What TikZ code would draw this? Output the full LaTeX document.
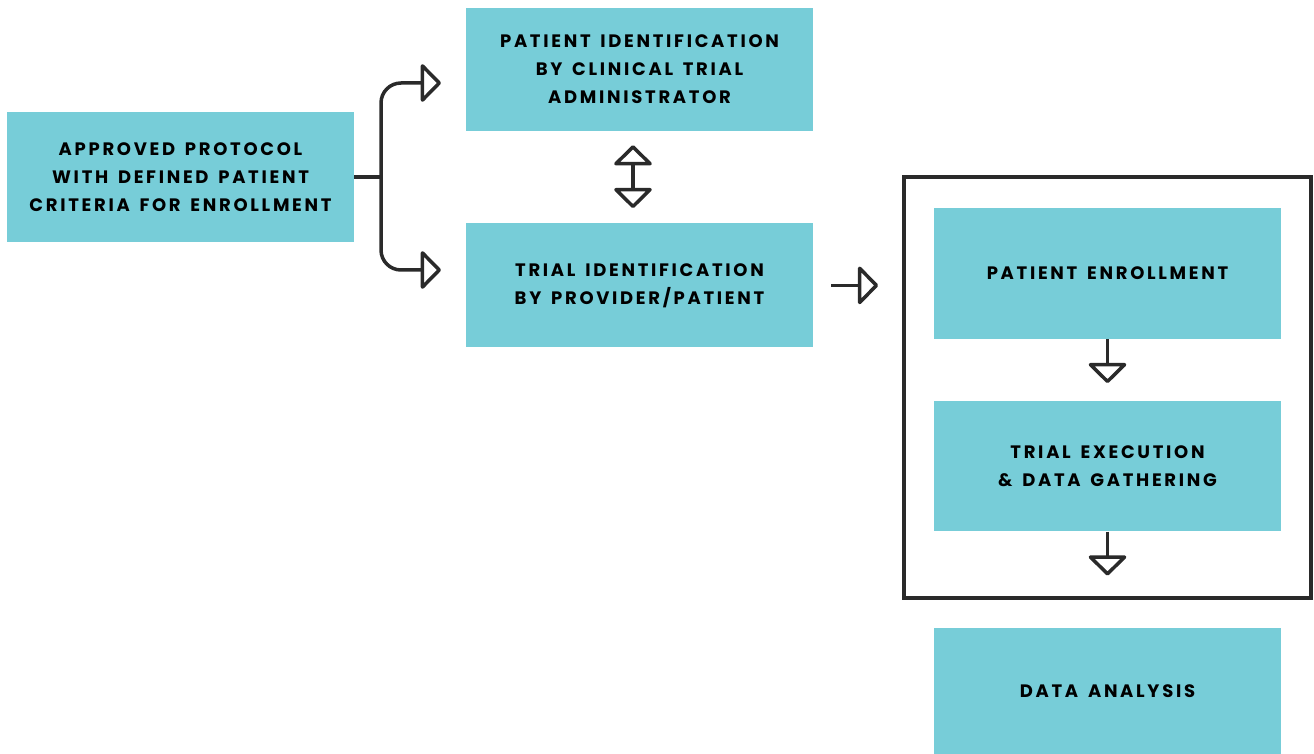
\documentclass[tikz,border=0pt]{standalone}
\usepackage{fontspec}
\newfontfamily\boxfont[LetterSpace=15,WordSpace=1.5]{Poppins}
\usetikzlibrary{positioning,arrows.meta}
\definecolor{boxcyan}{HTML}{77CDD8}
\definecolor{ink}{HTML}{2A2A2A}

\begin{document}
\begin{tikzpicture}[x=1pt,y=1pt,
    box/.style={fill=boxcyan,text=black,inner sep=0pt,minimum width=347pt,
      align=center,font=\boxfont\bfseries\fontsize{18}{28}\selectfont},
    link/.style={draw=ink,line width=3.5pt},
    opentip/.style={link,-{Triangle[open,length=21pt,width=42pt,round]}},
    twotip/.style={link,{Triangle[open,length=21pt,width=42pt,round]}-{Triangle[open,length=21pt,width=42pt,round]}}]
  \useasboundingbox (0,0) rectangle (1314,753);

  % left column and middle column
  \node[box,minimum height=130pt] (n_protocol) at (180.5,576)
    {APPROVED PROTOCOL\\WITH DEFINED PATIENT\\CRITERIA FOR ENROLLMENT};
  \node[box,minimum height=123pt] (n_admin) at (639.5,683.5)
    {PATIENT IDENTIFICATION\\BY CLINICAL TRIAL\\ADMINISTRATOR};
  \node[box,minimum height=124pt] (n_provider) [below = 92pt of n_admin]
    {TRIAL IDENTIFICATION\\BY PROVIDER/PATIENT};

  % the trial itself
  \draw[ink,line width=4pt] (904,155) rectangle (1311,576);
  \node[box,minimum height=131pt] (n_enroll) at (1107.5,479.5) {PATIENT ENROLLMENT};
  \node[box,minimum height=130pt] (n_exec) [below = 62pt of n_enroll]
    {TRIAL EXECUTION\\\& DATA GATHERING};
  \node[box,minimum height=126pt] (n_analysis) [below = 96pt of n_exec] {DATA ANALYSIS};

  \coordinate (split) at (381,576);
  \coordinate (to_admin) at (441,670);
  \coordinate (to_provider) at (441,483);
  \coordinate (after_exec) at ([yshift=-44pt]n_exec.south);

  \draw[link] (n_protocol.east) -- (split);
  \draw[opentip,rounded corners=20pt] (split) |- (to_admin);
  \draw[opentip,rounded corners=20pt] (split) |- (to_provider);
  \draw[twotip] ([xshift=-6.5pt,yshift=-14pt]n_admin.south) -- ([xshift=-6.5pt,yshift=15pt]n_provider.north);
  \draw[opentip] ([xshift=18pt]n_provider.east) -- ++(47pt,0);
  \draw[opentip] (n_enroll.south) -- ([yshift=18pt]n_exec.north);
  \draw[opentip] (n_exec.south) -- (after_exec);
\end{tikzpicture}
\end{document}
